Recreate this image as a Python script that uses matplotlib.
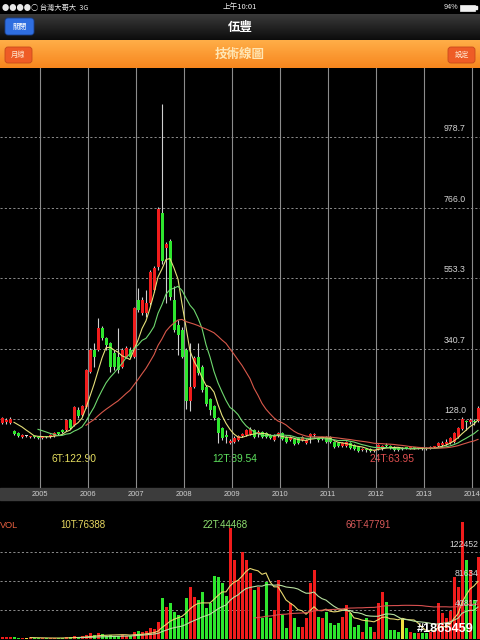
import numpy as np
import pandas as pd
import matplotlib
matplotlib.use("Agg")
import matplotlib.pyplot as plt
from matplotlib.patches import FancyBboxPatch, Rectangle

plt.rcParams['font.family'] = ['Liberation Sans', 'Noto Sans CJK TC', 'DejaVu Sans']
CJK = ['Noto Sans CJK TC', 'DejaVu Sans']

# ---------------- data (monthly, first month = 2004-01) ----------------
years = [2005, 2006, 2007, 2008, 2009, 2010, 2011, 2012, 2013, 2014]
price_ticks = [128.0, 340.7, 553.3, 766.0, 978.7]
price_tick_labels = ['128.0', '340.7', '553.3', '766.0', '978.7']
vol_ticks = [40817, 81634, 122452]
vol_tick_labels = ['40817', '81634', '122452']

opens = [114, 119, 116, 119, 116, 92, 86, 74, 77, 74, 75, 74,
         71, 74, 73, 78, 86, 95, 95, 125, 110, 155, 140, 164,
         270, 337, 337, 404, 374, 359, 328, 316, 286, 316, 337, 316,
         488, 449, 449, 479, 518, 586, 749, 646, 665, 488, 413, 398,
         337, 181, 226, 316, 286, 226, 187, 166, 131, 101, 80, 56,
         59, 65, 78, 80, 83, 95, 84, 89, 86, 80, 65, 77,
         86, 74, 65, 68, 71, 65, 56, 78, 80, 68, 70, 74,
         74, 59, 57, 47, 47, 56, 50, 44, 35, 34, 38, 31,
         38, 38, 49, 47, 44, 41, 38, 40, 39, 40, 39, 40,
         40, 40, 42, 47, 49, 52, 57, 60, 74, 98, 122, 119,
         122, 122]
highs = [124, 128, 134, 131, 134, 95, 89, 83, 80, 77, 77, 75,
         77, 77, 82, 89, 89, 98, 128, 128, 167, 164, 170, 279,
         343, 358, 434, 409, 377, 362, 336, 404, 343, 349, 346, 467,
         524, 497, 518, 577, 589, 768, 1080, 663, 673, 530, 428, 407,
         343, 358, 318, 358, 291, 231, 193, 169, 134, 104, 95, 68,
         77, 80, 86, 98, 104, 98, 95, 92, 89, 83, 83, 89,
         89, 77, 77, 71, 74, 77, 68, 86, 86, 74, 74, 77,
         77, 62, 60, 59, 62, 59, 53, 47, 41, 38, 41, 35,
         53, 50, 56, 50, 47, 44, 44, 44, 43, 43, 44, 42,
         42, 45, 47, 59, 62, 68, 74, 89, 104, 134, 125, 131,
         128, 167]
lows = [112, 116, 113, 113, 113, 80, 74, 71, 74, 71, 71, 68,
        68, 70, 71, 75, 81, 86, 92, 98, 107, 131, 137, 161,
        267, 286, 332, 367, 337, 271, 276, 268, 281, 311, 311, 311,
        452, 442, 437, 472, 512, 577, 597, 479, 487, 392, 322, 311,
        157, 151, 221, 261, 211, 166, 141, 125, 56, 65, 56, 53,
        56, 62, 74, 77, 80, 71, 74, 71, 71, 68, 62, 74,
        65, 56, 62, 50, 53, 62, 53, 56, 74, 59, 65, 56,
        56, 41, 42, 44, 44, 38, 35, 29, 32, 29, 29, 29,
        35, 35, 44, 38, 32, 32, 35, 36, 36, 36, 37, 35,
        35, 38, 40, 44, 46, 49, 54, 57, 71, 95, 95, 113,
        110, 119]
closes = [119, 122, 131, 125, 128, 83, 77, 80, 77, 75, 74, 71,
          74, 73, 80, 86, 84, 89, 125, 101, 164, 137, 167, 276,
          337, 316, 404, 374, 353, 286, 286, 277, 337, 344, 316, 464,
          458, 488, 479, 571, 583, 764, 604, 658, 497, 398, 383, 316,
          181, 226, 313, 268, 217, 172, 156, 131, 86, 71, 74, 62,
          71, 77, 80, 95, 98, 74, 86, 74, 74, 71, 80, 86,
          68, 59, 74, 53, 56, 74, 65, 80, 82, 66, 71, 59,
          60, 44, 46, 56, 59, 41, 38, 32, 36, 33, 32, 32,
          50, 47, 47, 41, 35, 35, 38, 39, 40, 39, 40, 38,
          37, 42, 44, 56, 56, 59, 71, 86, 101, 128, 119, 125,
          119, 161]
volumes = [3000, 3000, 2500, 2500, 3000, 2500, 2000, 1500, 1500, 1500, 1500, 1500,
           1500, 1500, 2000, 2000, 2000, 2000, 3000, 3000, 4000, 3000, 4000, 6000,
           8000, 6000, 9000, 7000, 5000, 6000, 5000, 5000, 6000, 5000, 4000, 10000,
           12000, 10000, 12000, 15000, 14000, 24000, 58000, 45000, 50000, 38000, 34000, 30000,
           58000, 73000, 59000, 55000, 66000, 44000, 51000, 88000, 87000, 79000, 60000, 155000,
           111000, 83000, 122000, 111000, 93000, 69000, 73000, 30000, 80000, 30000, 41000, 83000,
           34000, 16000, 51000, 30000, 17000, 17000, 30000, 79000, 97000, 31000, 30000, 38000,
           23000, 20000, 23000, 31000, 48000, 37000, 17000, 20000, 10000, 30000, 17000, 10000,
           51000, 66000, 52000, 13000, 13000, 10000, 30000, 16000, 10000, 8000, 8000, 8000,
           8000, 10000, 12000, 51000, 37000, 30000, 40000, 87000, 73000, 164000, 111000, 97000,
           55000, 115000]

price_ma_periods = [6, 12, 24]
price_ma_labels = ['6T:122.90', '12T:89.54', '24T:63.95']
vol_ma_periods = [10, 22, 66]
vol_ma_labels = ['10T:76388', '22T:44468', '66T:47791']

# ---------------- styles ----------------
RED = '#f01c1c'
GREEN = '#2ee62e'
WICK = '#cfcfcf'
MA_COLORS = ['#e6e07a', '#6fd86f', '#d8584a']
VMA_COLORS = ['#e8d870', '#b8e0a0', '#d85050']
GRID = '#8c8c8c'

W, H = 480, 640
fig = plt.figure(figsize=(4.8, 6.4), dpi=100)
fig.patch.set_facecolor('black')


def px_axes(x0, y0, x1, y1):
    return fig.add_axes([x0 / W, 1 - y1 / H, (x1 - x0) / W, (y1 - y0) / H])


bg = px_axes(0, 0, W, H)
bg.set_xlim(0, W)
bg.set_ylim(H, 0)
bg.axis('off')
bg.set_zorder(0)


def vgrad(x0, x1, y0, y1, c_top, c_bot, z=1):
    a = np.array(matplotlib.colors.to_rgb(c_top))
    b = np.array(matplotlib.colors.to_rgb(c_bot))
    t = np.linspace(0, 1, 64)[:, None]
    img = (a[None, :] * (1 - t) + b[None, :] * t)[:, None, :]
    bg.imshow(img, extent=[x0, x1, y1, y0], aspect='auto', zorder=z, interpolation='bilinear')


# status bar
bg.add_patch(Rectangle((0, 0), W, 14, color='black', zorder=1))
bg.text(2, 7.5, '●●●●○ 台灣大哥大  3G', color='#e8e8e8', fontsize=5.2, va='center', ha='left', family=CJK, zorder=3)
bg.text(240, 7.5, '上午10:01', color='#f0f0f0', fontsize=5.5, va='center', ha='center', family=CJK, zorder=3)
bg.text(458, 7.5, '94%', color='#e8e8e8', fontsize=5.2, va='center', ha='right', zorder=3)
bg.add_patch(Rectangle((460, 4.5), 15, 6, facecolor='#f0f0f0', edgecolor='#f0f0f0', lw=0.5, zorder=3))
bg.add_patch(Rectangle((475, 6.2), 1.5, 2.6, color='#f0f0f0', zorder=3))

# nav bar
vgrad(0, W, 14, 40, '#3a3a3a', '#0c0c0c')
bg.add_patch(FancyBboxPatch((5, 18), 29, 17, boxstyle='round,pad=0,rounding_size=3',
                            facecolor='#2f6ee0', edgecolor='#1a3f8a', lw=0.6, zorder=3))
bg.text(19.5, 26.5, '關閉', color='white', fontsize=5.2, ha='center', va='center', family=CJK, zorder=4)
bg.text(240, 27, '伍豐', color='white', fontsize=9, ha='center', va='center', family=CJK,
        fontweight='bold', zorder=4)

# orange bar
vgrad(0, W, 40, 68, '#ffae48', '#f7861e')
for bx, lab in [(5, '月線'), (448, '設定')]:
    bg.add_patch(FancyBboxPatch((bx, 47), 27, 16, boxstyle='round,pad=0,rounding_size=3',
                                facecolor='#ee5c26', edgecolor='#c84a1c', lw=0.6, zorder=3))
    bg.text(bx + 13.5, 55, lab, color='#ffe8d0', fontsize=5.2, ha='center', va='center', family=CJK, zorder=4)
bg.text(240, 54.5, '技術線圖', color='#ffe6b4', fontsize=9, ha='center', va='center', family=CJK,
        fontweight='bold', zorder=4)

# x-axis band
bg.add_patch(Rectangle((0, 488), W, 12, color='#3c3c3c', zorder=1))

# ---------------- price axes ----------------
n = len(closes)
x = np.arange(n)
o = np.array(opens, float)
h = np.array(highs, float)
l = np.array(lows, float)
c = np.array(closes, float)
v = np.array(volumes, float)

XMIN, XMAX = 1.5, 121.5
ax = px_axes(0, 68, W, 488)
ax.set_facecolor('none')
ax.set_xlim(XMIN, XMAX)
ax.set_ylim(-80.4, 1188.5)
for s in ax.spines.values():
    s.set_visible(False)
ax.set_xticks([])
ax.set_yticks([])
ax.set_zorder(2)

year_pos = [12 * (yv - 2004) - 0.5 for yv in years]
for xp in year_pos:
    ax.axvline(xp, color=GRID, lw=0.8, zorder=1)
for p, lab in zip(price_ticks, price_tick_labels):
    ax.axhline(p, color=GRID, lw=0.7, ls=(0, (2.2, 2.2)), zorder=1)
    ax.annotate(lab, xy=(466 / 480, p), xycoords=('axes fraction', 'data'),
                xytext=(0, 6.2), textcoords='offset points', ha='right', va='center',
                color='#d4d4d4', fontsize=6.3)

# wicks
ax.vlines(x, l, h, color=WICK, lw=0.8, zorder=3)
# bodies
up = c > o
dn = c < o
eq = c == o
minh = 3.5
body_h = np.maximum(np.abs(c - o), minh)
body_b = np.minimum(o, c)
ax.bar(x[up], body_h[up], bottom=body_b[up], width=0.75, color=RED, zorder=4, lw=0)
ax.bar(x[dn], body_h[dn], bottom=body_b[dn], width=0.75, color=GREEN, zorder=4, lw=0)
ax.bar(x[eq], 2.5, bottom=o[eq] - 1.2, width=0.75, color='#e0e0e0', zorder=4, lw=0)

cs = pd.Series(c)
for per, col in zip(price_ma_periods, MA_COLORS):
    ax.plot(x, cs.rolling(per).mean(), color=col, lw=0.8, zorder=5)

# MA labels
for xp, lab, col in zip([52, 212, 370], price_ma_labels, ['#e8e060', '#5ee05e', '#e05050']):
    bg.text(xp, 459, lab, color=col, fontsize=7.4, ha='left', va='center', zorder=6)

# year labels
for xp, yv in zip(year_pos, years):
    px = (xp - XMIN) / (XMAX - XMIN) * W
    bg.text(px, 494, str(yv), color='#d0d0d0', fontsize=5.4, ha='center', va='center', zorder=6)

# ---------------- volume axes ----------------
vx = px_axes(0, 500, W, H)
vx.set_facecolor('none')
vx.set_xlim(XMIN, XMAX)
vx.set_ylim(-1100, 194600)
for s in vx.spines.values():
    s.set_visible(False)
vx.set_xticks([])
vx.set_yticks([])
vx.set_zorder(2)
for p, lab in zip(vol_ticks, vol_tick_labels):
    vx.axhline(p, color=GRID, lw=0.7, ls=(0, (2.2, 2.2)), zorder=1)
    vx.annotate(lab, xy=(1.0, p), xycoords=('axes fraction', 'data'),
                xytext=(-1, 5), textcoords='offset points', ha='right', va='center',
                color='#d4d4d4', fontsize=6.2, zorder=7)
vcol = np.where(up, RED, np.where(dn, GREEN, '#f0e040'))
vx.bar(x, v, width=0.75, color=vcol, lw=0, zorder=3)
vs = pd.Series(v)
for per, col in zip(vol_ma_periods, VMA_COLORS):
    vx.plot(x, vs.rolling(per).mean(), color=col, lw=0.8, zorder=5)

bg.text(0, 525, 'VOL', color='#e86040', fontsize=6.6, ha='left', va='center', zorder=6)
for xp, lab, col in zip([60, 203, 345], vol_ma_labels, ['#e8d860', '#8ee070', '#d85a5a']):
    bg.text(xp, 525, lab, color=col, fontsize=7.0, ha='left', va='center', zorder=6)

# watermark
fig.text(474 / W, 1 - 629 / H, '#1865459', color='white', fontsize=9.2, ha='right', va='center',
         fontweight='bold', zorder=10)

fig.savefig('out.png', dpi=100, facecolor='black')
